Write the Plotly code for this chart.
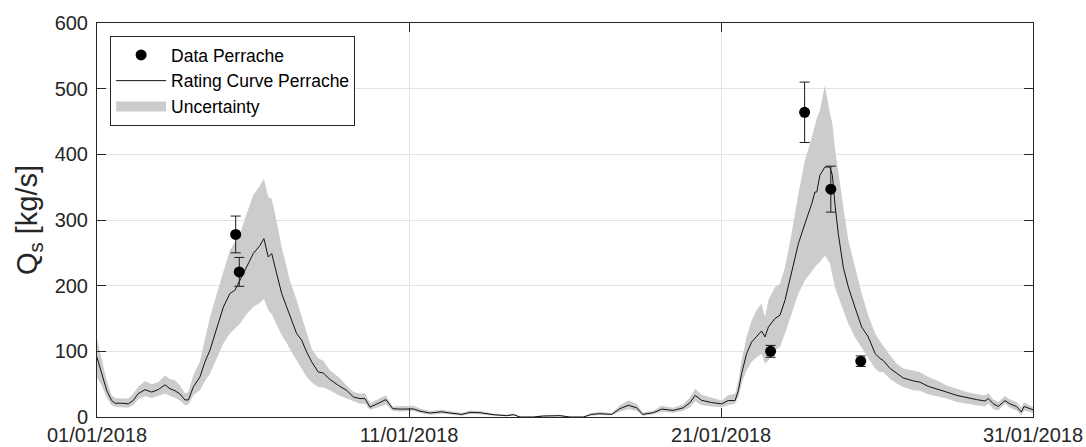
import pandas as pd
import plotly.graph_objects as go

# ---- data ----
# rating curve time stamps, in days after 01/01/2018 00:00
curve_days = [0.00, 0.15, 0.31, 0.47, 0.58, 0.79, 1.00, 1.16, 1.32, 1.54, 1.75, 1.96, 2.18, 2.34, 2.50, 2.66, 2.82, 2.93,
              3.09, 3.30, 3.46, 3.62, 3.84, 4.05, 4.26, 4.42, 4.58, 4.80, 5.01, 5.22, 5.35, 5.49, 5.60, 5.76, 5.92, 6.08,
              6.18, 6.40, 6.56, 6.72, 6.88, 7.09, 7.25, 7.47, 7.74, 8.00, 8.22, 8.43, 8.59, 8.75, 9.02, 9.26, 9.48, 9.71,
              10.14, 10.35, 10.67, 11.05, 11.31, 11.69, 11.96, 12.28, 12.70, 13.13, 13.35, 13.56, 13.98, 14.31, 14.84,
              15.16, 15.59, 15.85, 16.12, 16.50, 16.76, 17.03, 17.30, 17.49, 17.83, 18.10, 18.47, 18.79, 19.01, 19.17,
              19.38, 19.70, 20.02, 20.23, 20.45, 20.56, 20.66, 20.82, 20.98, 21.14, 21.30, 21.41, 21.52, 21.73, 21.89,
              22.05, 22.26, 22.48, 22.69, 22.91, 23.01, 23.07, 23.17, 23.33, 23.49, 23.57, 23.65, 23.76, 23.92, 24.08,
              24.29, 24.51, 24.72, 24.94, 25.10, 25.20, 25.42, 25.63, 25.84, 26.16, 26.38, 26.64, 26.91, 27.23, 27.55,
              27.87, 28.19, 28.46, 28.57, 28.73, 28.89, 29.10, 29.26, 29.47, 29.63, 29.71, 29.85, 30.00]
rating_curve = [91, 66, 40.6, 25, 21, 21, 20, 25, 35.6, 41.6, 38, 41.6, 49, 43, 40, 35, 26, 26,
                46, 61, 84, 101.6, 137, 167.5, 188, 193, 208, 228, 249, 261, 271.6, 243.6, 249, 218, 188, 167.5,
                155, 127, 117, 99, 84, 68.5, 67, 57, 48, 40.6, 30.5, 28, 28, 15, 21, 26.5, 12.7, 12,
                12.3, 9, 6, 8, 6, 4, 7, 6.5, 3.6, 2, 3.6, 0, 0, 1.5, 2,
                0, 0, 4, 5, 4, 12.7, 17.8, 14, 4, 6.5, 12, 10, 14, 22, 33,
                25.4, 22, 20, 25, 25, 40.6, 66, 96.5, 114, 122, 131, 122, 137, 150, 155,
                177.7, 218, 264, 294.5, 325, 342.6, 342.6, 368, 380.7, 380.7, 368, 325, 279, 228, 198,
                167.5, 137, 122, 96.5, 89, 86, 74, 66, 59.4, 55, 53, 46.7, 43, 38, 33,
                29.5, 26.5, 24.4, 28, 20, 16, 25, 20, 16, 7.6, 16, 14, 11]
uncert_low = [60, 48, 29.5, 18, 15.5, 15, 14, 18, 27, 31.5, 29, 32, 35.6, 32, 29.5, 25, 18, 19,
              33, 40.6, 55, 66, 91, 112, 127, 135, 142, 157, 167.5, 174, 180, 162.5, 157, 140, 125, 113,
              103, 86, 74, 61, 53, 45.7, 45, 40.6, 33, 28, 23, 20, 20, 11, 15, 19, 9, 8.5,
              9, 6, 3.5, 5, 4, 2, 4.5, 4, 2, 1, 2, 0, 0, 0.5, 1,
              0, 0, 2, 3, 2.5, 8, 12, 9, 2, 4, 8, 6.5, 9.5, 15, 24,
              18, 16, 15, 18, 20, 30.5, 51, 71, 84, 91, 96.5, 81, 86, 101.6, 106.6,
              127, 157, 188, 208, 223, 229, 232, 236, 246, 234, 213, 198, 183, 162.5, 142,
              122, 106.6, 90, 74, 68, 68.5, 58, 51, 45.7, 40.6, 40, 34.5, 32, 28, 23,
              20, 18, 16, 20, 12, 10, 20, 14, 10, 2.5, 10, 8, 6]
uncert_high = [119, 86, 56, 33, 29, 28, 28, 35, 46, 55, 50, 53, 63.5, 58, 56, 48, 35.6, 38,
               64, 85, 118, 152, 188, 223, 254, 266, 279, 310, 338, 352, 363, 335, 332, 297, 258, 228,
               208, 177.7, 152, 127, 104, 89, 86, 71, 61, 48, 38, 35.6, 36, 21, 28, 33, 16, 16,
               17, 13, 9, 11, 9, 6, 10, 9, 5.5, 3.5, 5.5, 0.5, 0.5, 3, 3.5,
               0.5, 0.5, 6, 7.5, 6, 18, 25, 20, 6.5, 9.5, 17, 14, 19.5, 30, 43,
               34, 29, 25, 33, 35.6, 56, 86, 122, 147, 162.5, 173, 152, 178, 198, 203,
               228, 279, 340, 391, 426, 445, 455, 467, 505, 462, 447, 410, 376, 320, 269,
               228, 188, 155, 127, 115, 109, 94, 81, 74, 71, 68, 61, 56, 48, 43,
               38, 34.5, 33, 36, 26.5, 23, 32, 26.5, 23, 14, 23, 19, 15]

# measured data points
data_days = [4.445, 4.56, 21.59, 22.68, 23.52, 24.48]
data_values = [278, 221, 100, 464, 347, 85]
data_errors = [28, 22, 9, 46, 35, 8]

# axis ticks
x_tick_dates = ["2018-01-01", "2018-01-11", "2018-01-21", "2018-01-31"]
x_tick_labels = ["01/01/2018", "11/01/2018", "21/01/2018", "31/01/2018"]
y_tick_values = [0, 100, 200, 300, 400, 500, 600]

start = pd.Timestamp("2018-01-01")
t_curve = start + pd.to_timedelta(curve_days, unit="D")
t_data = start + pd.to_timedelta(data_days, unit="D")

AX = "#262626"
BAND = "#cccccc"
FONT = "Liberation Sans, Arial, sans-serif"

fig = go.Figure()

fig.add_trace(go.Scatter(x=t_curve, y=uncert_low, mode="lines", line=dict(width=0, color=BAND),
                         showlegend=False, legendgroup="unc", hoverinfo="skip"))
fig.add_trace(go.Scatter(x=t_curve, y=uncert_high, mode="lines", line=dict(width=0, color=BAND),
                         fill="tonexty", fillcolor=BAND, showlegend=False, legendgroup="unc",
                         name="Uncertainty"))
fig.add_trace(go.Scatter(x=t_curve, y=rating_curve, mode="lines", line=dict(width=1, color="#111111"),
                         name="Rating Curve Perrache", legendrank=2))
fig.add_trace(go.Scatter(x=t_data, y=data_values, mode="markers",
                         marker=dict(size=11, color="black", symbol="circle"),
                         error_y=dict(type="data", array=data_errors, visible=True, color="#1a1a1a",
                                      thickness=1, width=5),
                         name="Data Perrache", legendrank=1))
# legend swatch for the uncertainty band (no data of its own)
fig.add_trace(go.Scatter(x=[None], y=[None], mode="lines", line=dict(width=18, color=BAND),
                         name="Uncertainty", legendgroup="unc", legendrank=3))

fig.update_layout(
    width=1086, height=447,
    margin=dict(l=97, r=53, t=23, b=30, autoexpand=False),
    paper_bgcolor="white", plot_bgcolor="white",
    font=dict(family=FONT, color=AX, size=20),
    legend=dict(x=0.014, y=0.967, xanchor="left", yanchor="top",
                bgcolor="white", bordercolor=AX, borderwidth=1,
                font=dict(size=17.5, color="black", family=FONT),
                itemwidth=50, tracegroupgap=0, traceorder="normal"),
    showlegend=True,
)
fig.update_xaxes(
    type="date", range=[x_tick_dates[0], x_tick_dates[-1]],
    tickvals=x_tick_dates, ticktext=x_tick_labels,
    showgrid=True, gridcolor="#e3e3e3", gridwidth=1,
    showline=True, linecolor=AX, linewidth=1, mirror="ticks",
    ticks="inside", ticklen=9, tickcolor=AX, automargin=False,
    tickfont=dict(size=20, color=AX), zeroline=False,
)
fig.update_yaxes(
    range=[0, 600], tickvals=y_tick_values,
    showgrid=True, gridcolor="#e3e3e3", gridwidth=1,
    showline=True, linecolor=AX, linewidth=1, mirror="ticks",
    ticks="inside", ticklen=9, tickcolor=AX, automargin=False,
    ticklabelstandoff=4,
    tickfont=dict(size=20, color=AX), zeroline=False,
    title=dict(text="Q<sub>s</sub> [kg/s]", font=dict(size=29, color=AX), standoff=8),
)

fig.write_html("out.html", config={"displayModeBar": False},
               post_script="document.body.style.margin='0';document.body.style.padding='0';")
